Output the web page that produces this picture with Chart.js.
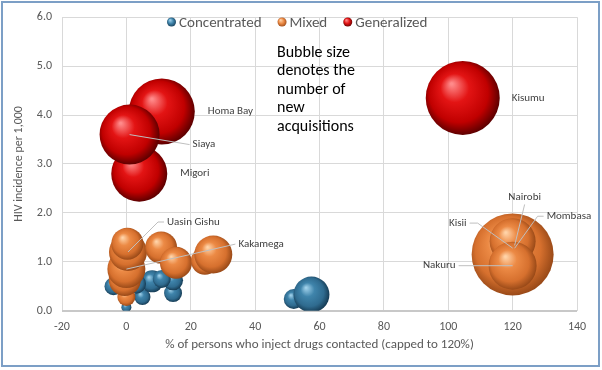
<!DOCTYPE html>
<html>
<head>
<meta charset="utf-8">
<script src="https://cdn.jsdelivr.net/npm/chart.js@4.4.1/dist/chart.umd.min.js"></script>
<style>
  html, body { margin: 0; padding: 0; background: #ffffff; }
  #wrap { width: 602px; height: 370px; position: relative; }
</style>
</head>
<body>
<div id="wrap"><canvas id="c" width="602" height="370"></canvas></div>
<script>
// ---------- DATA ----------
const seriesNames = ['Concentrated', 'Mixed', 'Generalized'];

const concNames = ['', '', '', '', '', '', '', '', '', ''];
const concX = [52, 57.5, 0, 5, 8, 14.5, 14.5, -4, 3, 11];
const concY = [0.24, 0.33, 0.07, 0.28, 0.6, 0.36, 0.62, 0.5, 0.55, 0.65];
const concR = [10, 18, 5, 8, 11, 9, 10, 9, 10, 9];

const mixedNames = ['', '', 'Kakamega', 'Uasin Gishu', '', '', '', '', '', 'Nairobi', 'Kisii', 'Mombasa', 'Nakuru'];
const mixedX = [0, -0.5, 0, 0.5, 0.3, 10.8, 15.4, 24.4, 27, 120, 120, 120, 120];
const mixedY = [0.28, 0.63, 0.85, 1.2, 1.37, 1.29, 0.98, 1.02, 1.15, 1.15, 1.3, 1.42, 0.92];
const mixedR = [9, 16, 19, 19, 16, 16, 16, 14, 19, 41, 14, 23, 24];

const genNames = ['Homa Bay', 'Migori', 'Siaya', 'Kisumu'];
const genX = [11, 4, 1, 104.5];
const genY = [4.07, 2.8, 3.6, 4.35];
const genR = [33, 28, 30, 37];

const xTickMin = -20, xTickMax = 140, xTickStep = 20;
const yTickMin = 0, yTickMax = 6, yTickStep = 1;

const noteLines = ['Bubble size', 'denotes the', 'number of', 'new', 'acquisitions'];
const xTitle = '% of persons who inject drugs contacted (capped to 120%)';
const yTitle = 'HIV incidence per 1,000';

// ---------- STYLE / LAYOUT ----------
const palette = {
  Concentrated: { light: '#9fd0ea', base: '#3f84ab', mid: '#2f6b8f', dark: '#163c55' },
  Mixed:        { light: '#ffd3a8', base: '#ec8a45', mid: '#d6702e', dark: '#9a4a18' },
  Generalized:  { light: '#ff8a8a', base: '#e31414', mid: '#c00000', dark: '#5e0000' }
};

// label placement relative to bubble center (pixels)
const labelLayout = {
  'Homa Bay':    { dx: 46, dy: 0, align: 'left' },
  'Migori':      { dx: 41, dy: 0, align: 'left' },
  'Siaya':       { dx: 63, dy: 10, align: 'left', line: true, ex: 0, ey: 0 },
  'Kisumu':      { dx: 49, dy: 0, align: 'left' },
  'Uasin Gishu': { dx: 39, dy: -30, align: 'left', line: true, bend: 6, ex: 0, ey: 0 },
  'Kakamega':    { dx: 112, dy: -25, align: 'left', line: true, ex: 0, ey: 0 },
  'Nairobi':     { dx: 12, dy: -57, align: 'center', line: true, ex: 2, ey: -9 },
  'Mombasa':     { dx: 34, dy: -25, align: 'left', line: true, bend: 6, ex: 2, ey: 7 },
  'Kisii':       { dx: -46, dy: -24, align: 'right', line: true, bend: 8, ex: 0, ey: 1 },
  'Nakuru':      { dx: -57, dy: 0, align: 'right', line: true, ex: 0, ey: 0 }
};

const FONT = "Carlito, Calibri, Lato, 'Open Sans', sans-serif";

function toPoints(xs, ys, rs, names) {
  return xs.map((x, i) => ({ x: x, y: ys[i], r: rs[i], name: names[i] }));
}

function sphereFill(key) {
  const p = palette[key];
  return function (ctx) {
    if (ctx.type !== 'data') return p.base;
    const chart = ctx.chart;
    const xs = chart.scales.x, ys = chart.scales.y;
    if (!xs || !ys || !chart.chartArea) return p.base;
    const raw = ctx.raw;
    const cx = xs.getPixelForValue(raw.x);
    const cy = ys.getPixelForValue(raw.y);
    const r = raw.r;
    const g = chart.ctx.createRadialGradient(cx - r * 0.3, cy - r * 0.38, r * 0.03, cx - r * 0.05, cy - r * 0.05, r * 1.05);
    g.addColorStop(0, p.light);
    g.addColorStop(0.35, p.base);
    g.addColorStop(0.75, p.mid);
    g.addColorStop(1, p.dark);
    return g;
  };
}

const frameAndNote = {
  id: 'frameAndNote',
  afterDraw(chart) {
    const c = chart.ctx;
    c.save();
    // annotation text
    c.fillStyle = '#000000';
    c.font = '16px ' + FONT;
    c.textAlign = 'left';
    c.textBaseline = 'alphabetic';
    noteLines.forEach((t, i) => c.fillText(t, 277, 57 + i * 18.4));
    // legend
    let x = 167;
    const ly = 22;
    c.font = '15px ' + FONT;
    c.textBaseline = 'middle';
    seriesNames.forEach((name) => {
      const p = palette[name];
      const g = c.createRadialGradient(x + 3, ly - 2, 0.3, x + 4.5, ly, 5);
      g.addColorStop(0, p.light);
      g.addColorStop(0.5, p.base);
      g.addColorStop(1, p.dark);
      c.fillStyle = g;
      c.beginPath();
      c.arc(x + 4.5, ly, 4.5, 0, Math.PI * 2);
      c.fill();
      c.fillStyle = '#595959';
      c.fillText(name, x + 12, ly + 1);
      x += 12 + c.measureText(name).width + 16;
    });
    // outer frame
    c.strokeStyle = '#7c9fc6';
    c.lineWidth = 2;
    c.strokeRect(2, 2, 597, 364);
    c.restore();
  }
};

const bubbleLabels = {
  id: 'bubbleLabels',
  afterDatasetsDraw(chart) {
    const c = chart.ctx;
    c.save();
    c.font = '11px ' + FONT;
    c.textBaseline = 'middle';
    chart.data.datasets.forEach((ds, di) => {
      const meta = chart.getDatasetMeta(di);
      ds.data.forEach((pt, i) => {
        const lay = labelLayout[pt.name];
        if (!lay) return;
        const el = meta.data[i];
        const cx = el.x, cy = el.y;
        const tx = cx + lay.dx, ty = cy + lay.dy;
        if (lay.line) {
          c.strokeStyle = '#bfbfbf';
          c.lineWidth = 1;
          c.beginPath();
          let sx, sy;
          if (lay.align === 'left') { sx = tx - 3; sy = ty; }
          else if (lay.align === 'right') { sx = tx + 3; sy = ty; }
          else { sx = tx; sy = ty + 7; }
          c.moveTo(sx, sy);
          if (lay.bend) {
            const bx = lay.align === 'right' ? sx + lay.bend : sx - lay.bend;
            c.lineTo(bx, sy);
          }
          c.lineTo(cx + lay.ex, cy + lay.ey);
          c.stroke();
        }
        c.fillStyle = '#404040';
        c.textAlign = lay.align;
        c.fillText(pt.name, tx, ty);
      });
    });
    c.restore();
  }
};

new Chart(document.getElementById('c'), {
  type: 'bubble',
  data: {
    datasets: [
      { label: seriesNames[0], data: toPoints(concX, concY, concR, concNames), backgroundColor: sphereFill('Concentrated'), borderWidth: 0, order: 3 },
      { label: seriesNames[1], data: toPoints(mixedX, mixedY, mixedR, mixedNames), backgroundColor: sphereFill('Mixed'), borderWidth: 0, order: 2 },
      { label: seriesNames[2], data: toPoints(genX, genY, genR, genNames), backgroundColor: sphereFill('Generalized'), borderWidth: 0, order: 1 }
    ]
  },
  options: {
    responsive: false,
    animation: false,
    events: [],
    layout: { autoPadding: false, padding: { left: 0, right: 25, top: 15, bottom: 0 } },
    plugins: { legend: { display: false }, tooltip: { enabled: false } },
    scales: {
      x: {
        type: 'linear',
        min: xTickMin, max: xTickMax,
        afterFit(s) { s.height = 59.3; },
        grid: { color: '#d9d9d9', drawTicks: false },
        border: { display: false },
        ticks: { stepSize: xTickStep, color: '#595959', font: { size: 12, family: FONT }, padding: 9 },
        title: { display: true, text: xTitle, color: '#595959', font: { size: 13, family: FONT }, padding: { top: 4, bottom: 17 } }
      },
      y: {
        type: 'linear',
        min: yTickMin, max: yTickMax,
        afterFit(s) { s.width = 62; },
        grid: {
          color: (ctx) => (ctx.tick && ctx.tick.value === 0 ? '#c8c8c8' : '#d9d9d9'),
          lineWidth: (ctx) => (ctx.tick && ctx.tick.value === 0 ? 2 : 1),
          drawTicks: false
        },
        border: { display: false },
        ticks: { stepSize: yTickStep, color: '#595959', font: { size: 12, family: FONT }, padding: 10, callback: (v) => Number(v).toFixed(1) },
        title: { display: true, text: yTitle, color: '#595959', font: { size: 12, family: FONT }, padding: { top: 12, bottom: 0 } }
      }
    }
  },
  plugins: [bubbleLabels, frameAndNote]
});
</script>
</body>
</html>
